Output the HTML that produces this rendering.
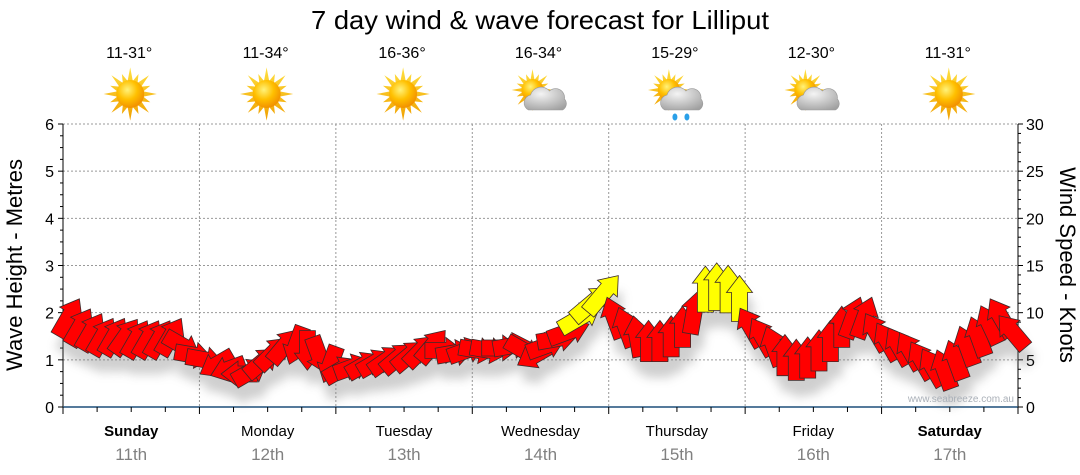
<!DOCTYPE html>
<html><head><meta charset="utf-8">
<style>
html,body{margin:0;padding:0;background:#fff;}
svg{display:block;font-family:"Liberation Sans","DejaVu Sans",sans-serif;}
</style></head>
<body>
<svg id="chart" width="1080" height="475" viewBox="0 0 1080 475">
<defs>
<radialGradient id="sunG" cx="0.4" cy="0.35" r="0.7">
<stop offset="0" stop-color="#fff27a"/><stop offset="0.5" stop-color="#ffc000"/><stop offset="1" stop-color="#f08a00"/>
</radialGradient>
<linearGradient id="rayG" x1="0" y1="0" x2="0" y2="1">
<stop offset="0" stop-color="#ffe040"/><stop offset="1" stop-color="#f0a000"/>
</linearGradient>
<radialGradient id="cloudG" cx="0.4" cy="0.3" r="0.8">
<stop offset="0" stop-color="#f4f4f4"/><stop offset="1" stop-color="#a0a0a0"/>
</radialGradient>
<filter id="shadow" x="-50%" y="-50%" width="200%" height="200%">
<feGaussianBlur stdDeviation="5"/>
</filter>
</defs>
<text x="540" y="29" text-anchor="middle" font-size="26" textLength="458" lengthAdjust="spacingAndGlyphs" fill="#000">7 day wind &amp; wave forecast for Lilliput</text>
<g id="plot"></g>
</svg>
<script>
const days = ["Sunday","Monday","Tuesday","Wednesday","Thursday","Friday","Saturday"];
const dates = ["11th","12th","13th","14th","15th","16th","17th"];
const temps = ["11-31°","11-34°","16-36°","16-34°","15-29°","12-30°","11-31°"];
const icons = ["sun","sun","sun","cloud","rain","cloud","sun"];
const leftTicks = [0,1,2,3,4,5,6];
const rightTicks = [0,5,10,15,20,25,30];
// wave height (m), 12 readings per day (every 2 hours)
const waveHeight = [
1.9,1.7,1.6,1.5,1.5,1.5,1.45,1.45,1.45,1.5,1.3,1.1,
1.0,0.9,0.8,0.7,0.75,0.95,1.15,1.3,1.3,1.2,1.1,0.9,
0.8,0.85,0.9,0.95,1.0,1.05,1.1,1.2,1.3,1.2,1.15,1.2,
1.2,1.2,1.25,1.3,1.2,1.1,1.3,1.45,1.6,1.9,2.2,2.4,
1.9,1.7,1.5,1.4,1.4,1.5,1.7,2.0,2.5,2.55,2.5,2.3,
1.7,1.5,1.3,1.1,1.0,1.05,1.2,1.4,1.7,1.9,1.9,1.6,
1.4,1.3,1.2,1.0,0.85,0.8,1.0,1.3,1.5,1.75,1.9,1.6];
// wind direction the arrow points to (deg, 0 = up, clockwise)
const windDir = [
30,30,30,30,30,35,30,30,30,30,120,100,
100,240,250,270,60,50,45,40,200,180,160,200,
60,70,60,60,55,50,50,45,40,90,80,70,
100,100,90,80,120,240,70,80,70,60,50,40,
-20,-20,-10,0,0,0,0,10,0,0,0,0,
-30,-30,-20,0,0,0,0,0,0,20,20,-30,
-30,-30,-30,-30,-30,-20,-20,-20,-20,-25,-30,-40];
// wind speed (knots)
const windSpeed = [
13,12,12,12,12,12,12,12,12,12,11,10,
10,10,9,9,10,11,12,12,11,11,10,10,
10,10,10,10,11,11,11,11,11,10,10,10,
10,10,10,10,10,11,11,12,13,15,16,16,
13,12,12,12,12,12,12,13,15,16,16,15,
13,12,12,12,12,12,12,12,12,13,13,12,
12,12,12,12,12,12,12,12,12,12,13,12];

const NS="http://www.w3.org/2000/svg";
const plot=document.getElementById('plot');
const X0=63,X1=1018,YT=124,YB=407;
const dayW=(X1-X0)/7;
const perDay=12;
function yL(v){return YB-(v/6)*(YB-YT);}
function yR(v){return YB-(v/30)*(YB-YT);}
function xT(i){return X0+(i+0.5)*dayW/perDay;}
function mk(tag,attrs,parent){const e=document.createElementNS(NS,tag);for(const k in attrs)e.setAttribute(k,attrs[k]);(parent||plot).appendChild(e);return e;}

// gridlines
const grid=mk('g',{});


leftTicks.forEach(v=>{if(v>0)mk('line',{x1:X0,x2:X1,y1:yL(v),y2:yL(v),stroke:'#999','stroke-dasharray':'2,2','stroke-width':1},grid);});
for(let d=1;d<7;d++){const x=X0+d*dayW;mk('line',{x1:x,x2:x,y1:YT,y2:YB,stroke:'#999','stroke-dasharray':'2,2','stroke-width':1},grid);}

// axes
const axL=mk('g',{});


mk('line',{x1:X0,x2:X0,y1:YT,y2:YB,stroke:'#000'},axL);
for(let k=0;k<=24;k++){const y=yL(k*0.25);mk('line',{x1:X0-(k%4==0?5:3),x2:X0,y1:y,y2:y,stroke:'#000'},axL);}
leftTicks.forEach(v=>{const t=mk('text',{x:X0-9,y:yL(v)+6,'text-anchor':'end','font-size':16,fill:'#000'},axL);t.textContent=v;});
const axR=mk('g',{});


mk('line',{x1:X1,x2:X1,y1:YT,y2:YB,stroke:'#000'},axR);
for(let k=0;k<=30;k++){const y=yR(k);mk('line',{x1:X1,x2:X1+(k%5==0?5:3),y1:y,y2:y,stroke:'#000'},axR);}
rightTicks.forEach(v=>{const t=mk('text',{x:X1+8,y:yR(v)+6,'font-size':16,fill:'#000'},axR);t.textContent=v;});
const axB=mk('g',{});


mk('line',{x1:X0,x2:X1,y1:YB,y2:YB,stroke:'#1d4f7a','stroke-width':1.5},axB);
for(let k=0;k<=28;k++){const x=X0+k*dayW/4;mk('line',{x1:x,x2:x,y1:YB,y2:YB+(k%4==0?7:5),stroke:'#000'},axB);}

const tl=mk('text',{x:0,y:0,'font-size':22,'text-anchor':'middle',transform:'translate(22,265) rotate(-90)',fill:'#000'});
tl.textContent='Wave Height - Metres';


const tr=mk('text',{x:0,y:0,'font-size':22,'text-anchor':'middle',transform:'translate(1060,265) rotate(90)',fill:'#000'});
tr.textContent='Wind Speed - Knots';



// day labels, temps, icons
function sun(g,cx,cy,r){
  let pts=[];const n=16;
  for(let i=0;i<n*2;i++){const a=i*Math.PI/n;const rr=i%2==0?(i%4==0?r*1.9:r*1.55):r*0.95;pts.push((cx+rr*Math.sin(a)).toFixed(1)+','+(cy-rr*Math.cos(a)).toFixed(1));}
  mk('polygon',{points:pts.join(' '),fill:'url(#rayG)'},g);
  mk('circle',{cx:cx,cy:cy,r:r,fill:'url(#sunG)'},g);
}
function cloud(g,cx,cy){
  const p=`M${cx-14},${cy+14} a8,8 0 0 1 2,-15 a11,11 0 0 1 19,-4 a9,9 0 0 1 15,8 a7,7 0 0 1 -2,11 z`;
  mk('path',{d:p,fill:'url(#cloudG)',stroke:'#999','stroke-width':0.6},g);
}
for(let d=0;d<7;d++){
  const cx=X0+(d+0.5)*dayW;
  const dl=mk('text',{x:cx,y:436,'text-anchor':'middle','font-size':15,'font-weight':(d==0||d==6)?'bold':'normal',fill:'#000'});
  dl.textContent=days[d];
  
  
  const dt=mk('text',{x:cx,y:460,'text-anchor':'middle','font-size':17,fill:'#808080'});
  dt.textContent=dates[d];
  
  
  const tp=mk('text',{x:cx-2,y:58,'text-anchor':'middle','font-size':16,fill:'#000'});
  tp.textContent=temps[d];
  
  
  const ig=mk('g',{});
  
  
  if(icons[d]=='sun'){sun(ig,cx-1,94,14);}
  else{sun(ig,cx-8,90,11);cloud(ig,cx+2,96);
    if(icons[d]=='rain'){mk('ellipse',{cx:cx-2,cy:117,rx:2.5,ry:3.5,fill:'#2aa0e8'},ig);mk('ellipse',{cx:cx+10,cy:117,rx:2.5,ry:3.5,fill:'#2aa0e8'},ig);}}
}

// arrows
const shadowG=mk('g',{filter:'url(#shadow)',opacity:0.35});


const arrowsG=mk('g',{});


function arrowPath(L){
  const hw=13,sw=8,hl=17;
  const t=-L/2,b=L/2;
  return `M0,${t} L${hw},${t+hl} L${sw},${t+hl} L${sw},${b} L${-sw},${b} L${-sw},${t+hl} L${-hw},${t+hl} Z`;
}
for(let i=0;i<waveHeight.length;i++){
  const x=xT(i),y=yL(waveHeight[i]);
  const L=22+1.6*windSpeed[i];
  const tf=`translate(${x.toFixed(1)},${y.toFixed(1)}) rotate(${windDir[i]})`;
  mk('path',{d:arrowPath(L),transform:`translate(${(x+4).toFixed(1)},${(y+16).toFixed(1)}) rotate(${windDir[i]})`,fill:'#777'},shadowG);
  const a=mk('path',{d:arrowPath(L),transform:tf,fill:windSpeed[i]>=14?'#ffff00':'#ff0000',stroke:'#3a2a2a','stroke-width':0.8},arrowsG);
  
  
}
const wm=mk('text',{x:1014,y:402,'text-anchor':'end','font-size':10,fill:'#aab0b8'});
wm.textContent='www.seabreeze.com.au';


</script>
</body></html>
